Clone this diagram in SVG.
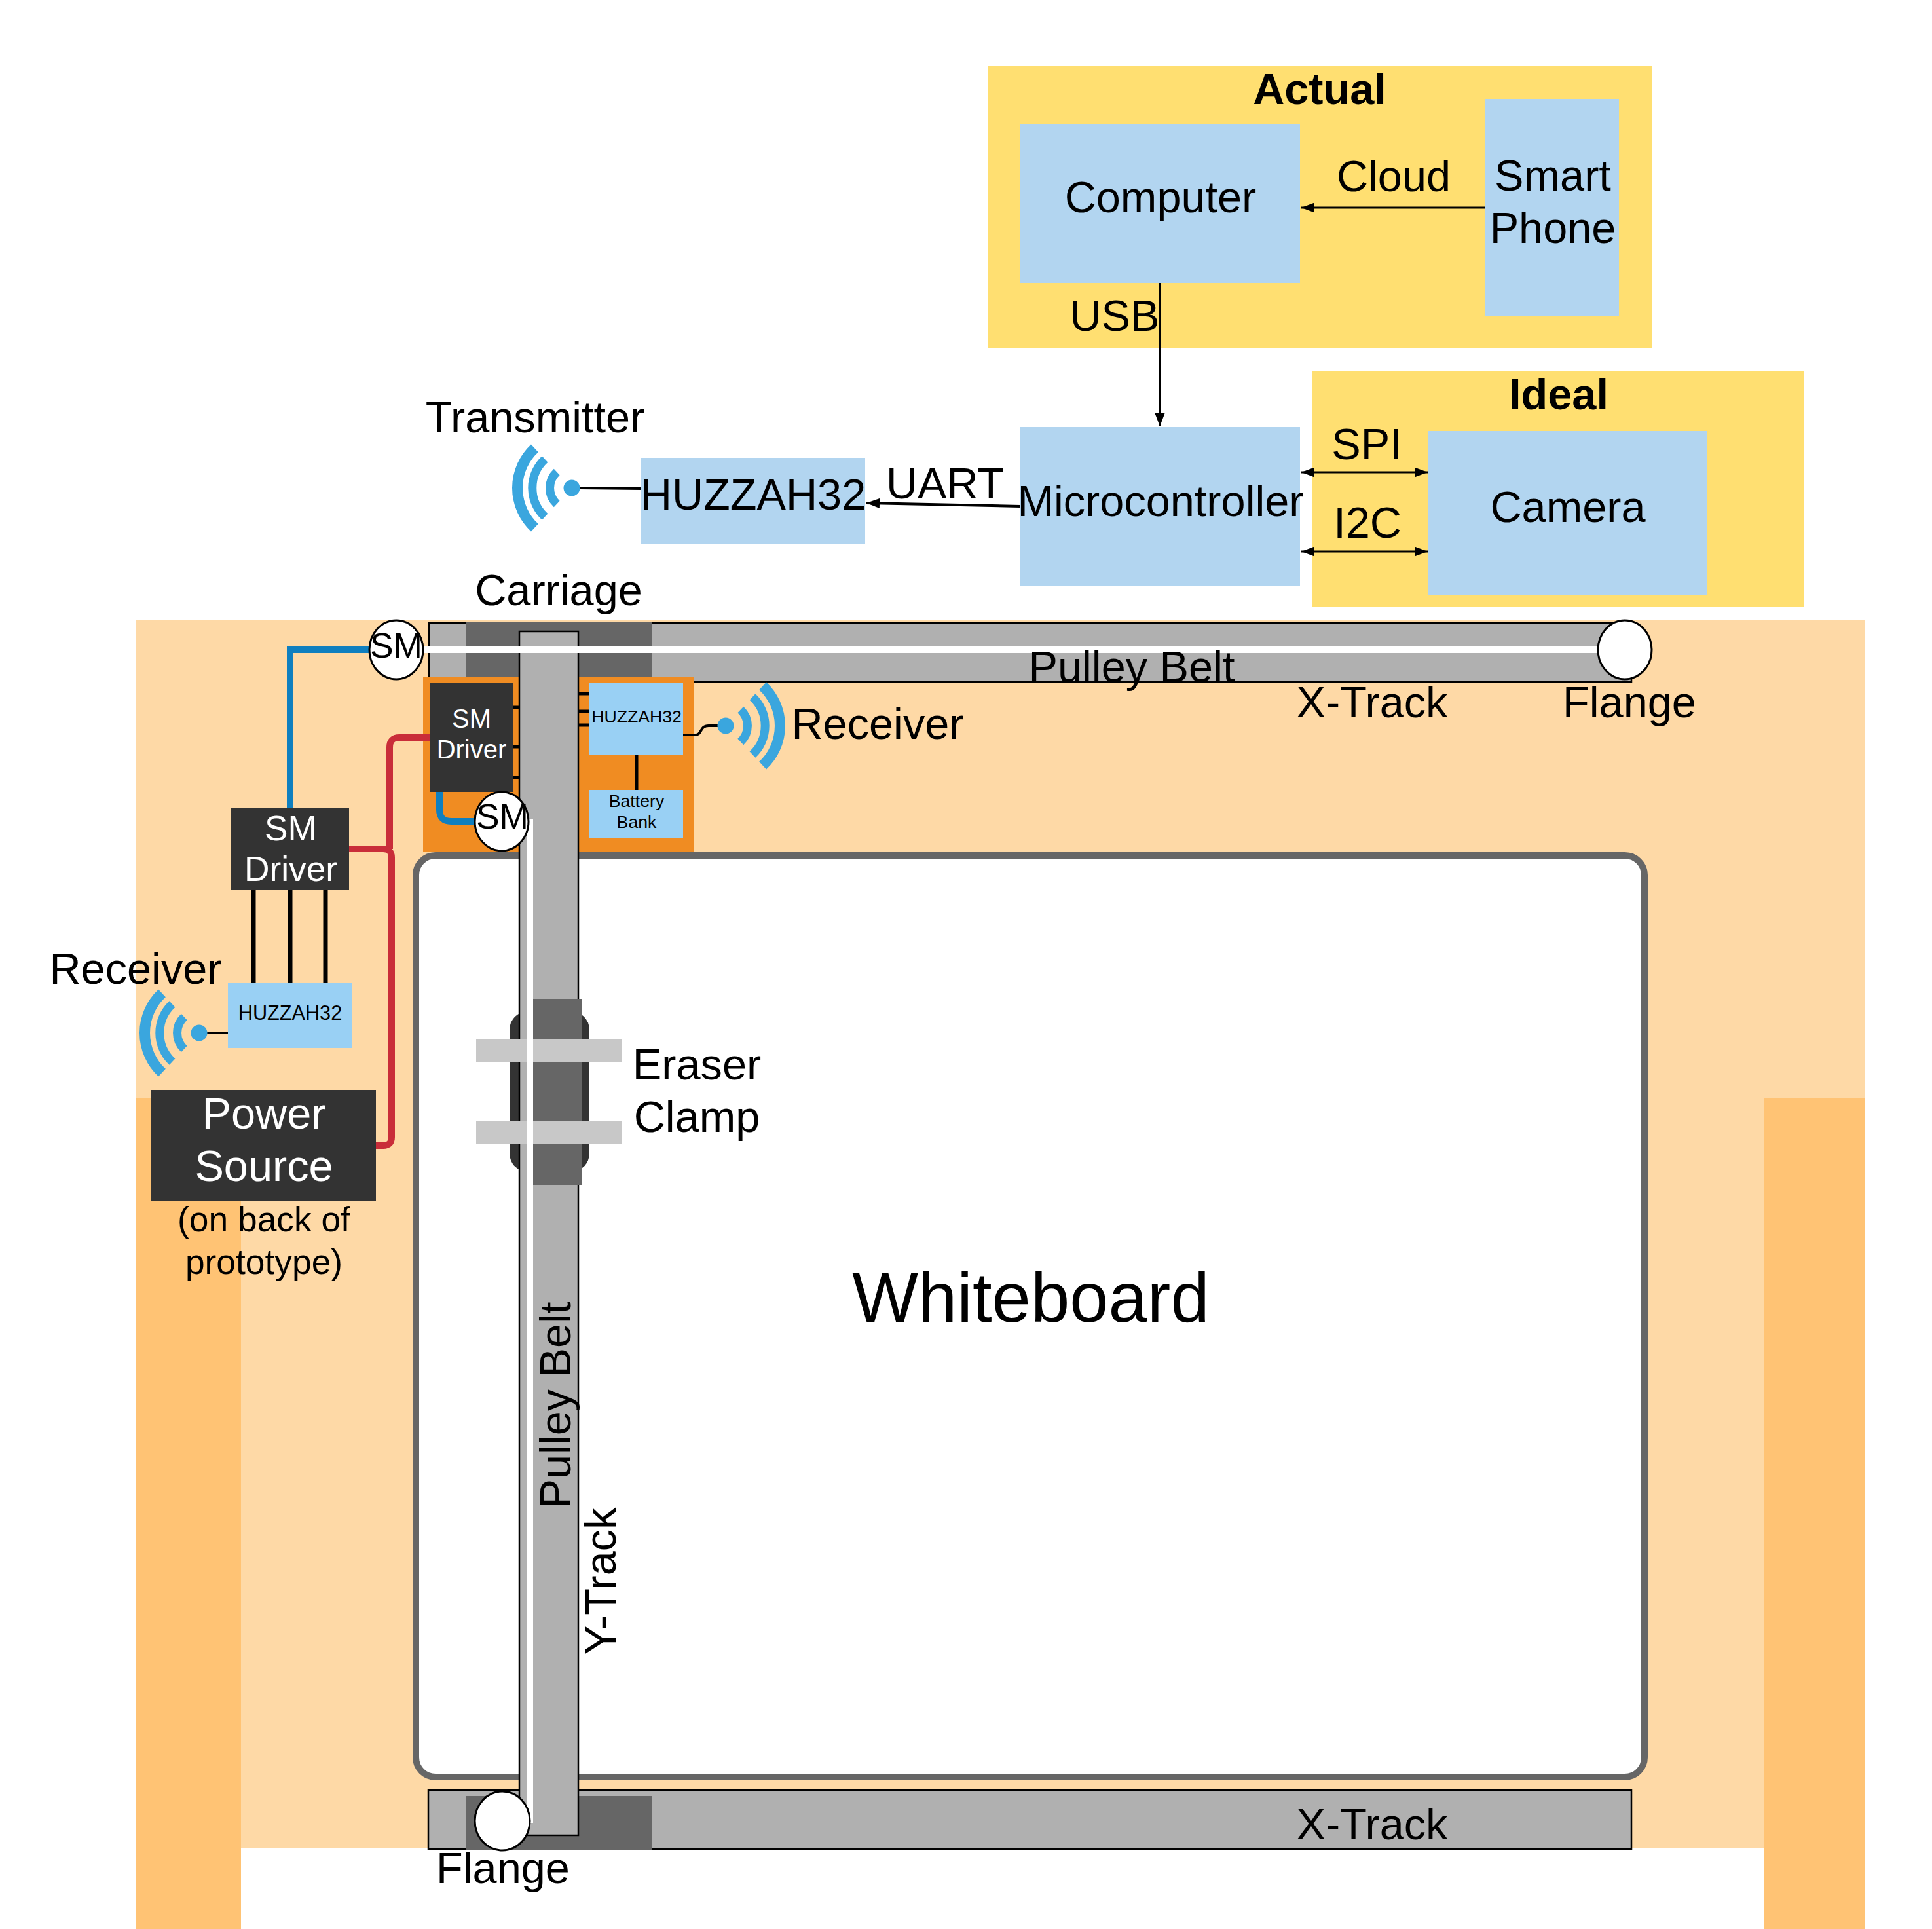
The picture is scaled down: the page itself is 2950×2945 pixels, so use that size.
<svg xmlns="http://www.w3.org/2000/svg" xmlns:xlink="http://www.w3.org/1999/xlink" width="2950" height="2945" viewBox="0 0 2950 2945">
<style>
text{font-family:"Liberation Sans",Arial,sans-serif;fill:#000;text-anchor:middle}
.f67{font-size:66.67px}.f53{font-size:53.33px}.f40{font-size:40px}.f27{font-size:26.67px}.f31{font-size:30.67px}
.w{fill:#fff}.b{font-weight:bold}
.panel{fill:#ffdf71}.blue{fill:#b2d5f0}.lblue{fill:#99d0f4}.dark{fill:#333}
.track{fill:#b0b0b0;stroke:#000;stroke-width:2.5}.carr{fill:#666}
.circ{fill:#fff;stroke:#000;stroke-width:3}
.thin{fill:none;stroke:#000;stroke-width:3}
.wire{fill:none;stroke:#000;stroke-width:4}
.stub{fill:none;stroke:#000;stroke-width:5}
.sig{fill:none;stroke:#000;stroke-width:7}
.red{fill:none;stroke:#c92d39;stroke-width:10}
.bl{fill:none;stroke:#0f7fbf;stroke-width:10}
.belt{fill:#fff}
.arc{fill:none;stroke:#3aa6de}
</style>
<defs>
<marker id="ah" markerUnits="userSpaceOnUse" markerWidth="20" markerHeight="15" refX="20" refY="7.5" orient="auto-start-reverse"><path d="M0 0L20 7.5L0 15Z" fill="#000"/></marker>
<g id="wifi">
<circle r="12.5" fill="#3aa6de"/>
<path class="arc" stroke-width="16" d="M-56.6 -60.7A83 83 0 0 0 -56.6 60.7"/>
<path class="arc" stroke-width="13" d="M-41 -44A60 60 0 0 0 -41 44"/>
<path class="arc" stroke-width="13" d="M-22.8 -24.5A33.5 33.5 0 0 0 -22.8 24.5"/>
</g>
</defs>
<rect width="2950" height="2945" fill="#fff"/>
<g id="frame">
<rect x="208" y="947" width="2640" height="1875" fill="#fed9a6"/>
<rect x="208" y="1677" width="160" height="1268" fill="#ffc374"/>
<rect x="2694" y="1677" width="154" height="1268" fill="#ffc374"/>
</g>
<g id="actual-panel"><rect class="panel" x="1508" y="100" width="1014" height="432"/><text class="f67 b" x="2015" y="159">Actual</text></g>
<g id="ideal-panel"><rect class="panel" x="2003" y="566" width="752" height="360"/><text class="f67 b" x="2380" y="625">Ideal</text></g>
<g id="x-track-top"><rect class="track" x="655" y="951" width="1836" height="90"/><rect class="carr" x="711" y="950" width="284" height="90"/></g>
<g id="x-track-bottom"><rect class="track" x="654" y="2733" width="1837" height="90"/><rect class="carr" x="711" y="2742" width="284" height="82"/></g>
<g id="whiteboard"><rect x="635" y="1306" width="1876" height="1407" rx="30" fill="#fff" stroke="#666" stroke-width="10"/><text x="1574" y="2018" font-size="106.67">Whiteboard</text></g>
<g id="carriage"><rect x="646" y="1033" width="414" height="268" fill="#f08c22"/></g>
<g id="connectors">
<line class="thin" x1="2268" y1="317" x2="1987" y2="317" marker-end="url(#ah)"/>
<line class="thin" x1="1771" y1="432" x2="1771" y2="651" marker-end="url(#ah)"/>
<line class="thin" x1="1987" y1="721" x2="2180" y2="721" marker-start="url(#ah)" marker-end="url(#ah)"/>
<line class="thin" x1="1987" y1="842" x2="2180" y2="842" marker-start="url(#ah)" marker-end="url(#ah)"/>
<line class="wire" x1="1558" y1="773" x2="1323" y2="768" marker-end="url(#ah)"/>
<line class="wire" x1="886" y1="745" x2="979" y2="746"/>
<line class="wire" x1="316" y1="1577" x2="348" y2="1577"/>
<path class="wire" d="M1043 1122H1062C1072 1122 1068 1108 1082 1108H1096"/>
<line class="sig" x1="387" y1="1358" x2="387" y2="1500"/>
<line class="sig" x1="443" y1="1358" x2="443" y2="1500"/>
<line class="sig" x1="497" y1="1358" x2="497" y2="1500"/>
<path class="bl" d="M563 992H443V1234"/>
<path class="bl" d="M671 1209V1236Q671 1254 689 1254H725"/>
<path class="red" d="M656 1126H610Q595 1126 595 1141V1296"/>
<path class="red" d="M533 1296H585Q598 1296 598 1309V1736Q598 1749 585 1749H574"/>
<path class="stub" d="M783 1080H793M783 1140H793M783 1187H793M884 1059H900M884 1086H900M884 1107H900"/>
<line class="stub" x1="972" y1="1152" x2="972" y2="1206"/>
</g>
<g id="computer"><rect class="blue" x="1558" y="189" width="427" height="243"/><text class="f67" x="1772" y="324">Computer</text></g>
<g id="smart-phone"><rect class="blue" x="2268" y="151" width="204" height="332"/><text class="f67" x="2371" y="291">Smart</text><text class="f67" x="2371" y="371">Phone</text></g>
<g id="microcontroller"><rect class="blue" x="1558" y="652" width="427" height="243"/><text class="f67" x="1772" y="788">Microcontroller</text></g>
<g id="camera"><rect class="blue" x="2180" y="658" width="427" height="250"/><text class="f67" x="2394" y="797">Camera</text></g>
<g id="huzzah-top"><rect class="blue" x="979" y="699" width="342" height="131"/><text class="f67" x="1150" y="778">HUZZAH32</text></g>
<g id="transmitter"><use xlink:href="#wifi" href="#wifi" transform="translate(873 745)"/><text class="f67" x="817" y="660">Transmitter</text></g>
<g id="sm-driver-outer"><rect class="dark" x="353" y="1234" width="180" height="124"/><text class="f53 w" x="444" y="1283">SM</text><text class="f53 w" x="444" y="1345">Driver</text></g>
<g id="huzzah-left"><rect class="lblue" x="348" y="1500" width="190" height="100"/><text class="f31" x="443" y="1557">HUZZAH32</text></g>
<g id="receiver-left"><use xlink:href="#wifi" href="#wifi" transform="translate(304 1577)"/><text class="f67" x="207" y="1502">Receiver</text></g>
<g id="power-source"><rect class="dark" x="231" y="1664" width="343" height="170"/><text class="f67 w" x="403" y="1723">Power</text><text class="f67 w" x="403" y="1803">Source</text><text class="f53" x="403" y="1880">(on back of</text><text class="f53" x="403" y="1945">prototype)</text></g>
<g id="sm-driver-inner"><rect class="dark" x="656" y="1043" width="127" height="166"/><text class="f40 w" x="720" y="1111">SM</text><text class="f40 w" x="720" y="1158">Driver</text></g>
<g id="huzzah-inner"><rect class="lblue" x="900" y="1043" width="143" height="109"/><text class="f27" x="972" y="1103">HUZZAH32</text></g>
<g id="battery-bank"><rect class="lblue" x="900" y="1206" width="143" height="74"/><text class="f27" x="972" y="1232">Battery</text><text class="f27" x="972" y="1264">Bank</text></g>
<g id="receiver-right"><use xlink:href="#wifi" href="#wifi" transform="translate(1108 1108) scale(-1 1)"/><text class="f67" x="1340" y="1128">Receiver</text></g>
<g id="eraser-clamp-base"><rect class="dark" x="778" y="1544" width="122" height="245" rx="28"/></g>
<g id="y-track"><rect class="track" x="793" y="964" width="90" height="1838"/></g>
<g id="eraser-clamp">
<rect class="carr" x="814" y="1525" width="74" height="284"/>
<rect x="727" y="1586" width="223" height="35" fill="#c8c8c8"/>
<rect x="727" y="1712" width="223" height="34" fill="#c8c8c8"/>
<text class="f67" x="1064" y="1648">Eraser</text><text class="f67" x="1064" y="1728">Clamp</text>
</g>
<g id="belts">
<rect class="belt" x="646" y="987" width="1800" height="10"/>
<rect class="belt" x="805" y="1250" width="9" height="1533"/>
</g>
<g id="sm-top"><ellipse class="circ" cx="605" cy="992" rx="41" ry="45"/><text class="f53" x="605" y="1004">SM</text></g>
<g id="sm-lower"><ellipse class="circ" cx="766" cy="1254" rx="41" ry="45"/><text class="f53" x="767" y="1265">SM</text></g>
<g id="flange-top"><ellipse class="circ" cx="2481" cy="992" rx="41" ry="45"/><text class="f67" x="2488" y="1095">Flange</text></g>
<g id="flange-bottom"><ellipse class="circ" cx="767" cy="2780" rx="42" ry="45"/><text class="f67" x="768" y="2875">Flange</text></g>
<g id="labels">
<text class="f67" x="2128" y="292">Cloud</text>
<text class="f67" x="1702" y="505">USB</text>
<text class="f67" x="2087" y="701">SPI</text>
<text class="f67" x="2088" y="821">I2C</text>
<text class="f67" x="1443" y="761">UART</text>
<text class="f67" x="853" y="924">Carriage</text>
<text class="f67" x="1728" y="1041">Pulley Belt</text>
<text class="f67" x="2095" y="1095">X-Track</text>
<text class="f67" x="2095" y="2808">X-Track</text>
<text class="f67" transform="translate(871 2145) rotate(-90)">Pulley Belt</text>
<text class="f67" transform="translate(940 2414) rotate(-90)">Y-Track</text>
</g>
</svg>
